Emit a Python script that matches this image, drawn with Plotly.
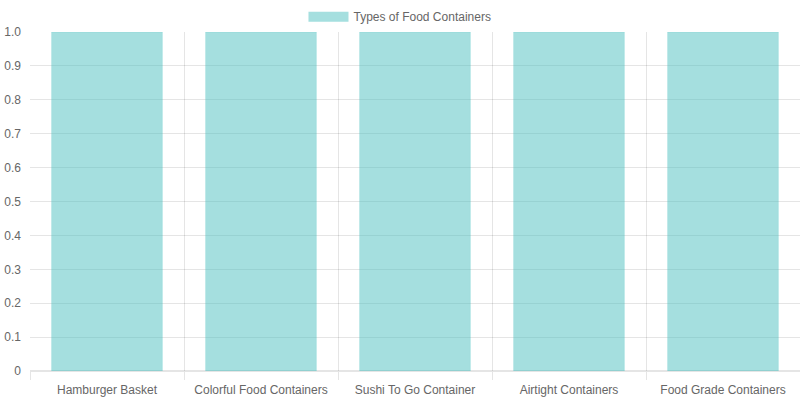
import plotly.graph_objects as go

# ── Data ──────────────────────────────────────────────────────────────
categories = [
    "Hamburger Basket",
    "Colorful Food Containers",
    "Sushi To Go Container",
    "Airtight Containers",
    "Food Grade Containers",
]
values = [1, 1, 1, 1, 1]
series_name = "Types of Food Containers"

y_tickvals = [0, 0.1, 0.2, 0.3, 0.4, 0.5, 0.6, 0.7, 0.8, 0.9, 1.0]
y_ticktext = ["0", "0.1", "0.2", "0.3", "0.4", "0.5", "0.6", "0.7", "0.8", "0.9", "1.0"]

FILL = "rgba(75,192,192,0.5)"
GRID = "rgba(0,0,0,0.1)"

fig = go.Figure()

fig.add_trace(go.Bar(
    x=categories, y=values,
    marker=dict(color=FILL, line=dict(color="rgba(75,192,192,0.15)", width=1)),
    name=series_name, showlegend=False,
))

# legend-only entry, drawn as a wide box like the reference
fig.add_trace(go.Scatter(
    x=[None], y=[None], mode="lines",
    line=dict(color=FILL, width=12),
    name=series_name, showlegend=True,
))

fig.update_layout(
    width=800, height=400,
    paper_bgcolor="white", plot_bgcolor="white",
    font=dict(family="Liberation Sans, Arial, sans-serif", size=12, color="#666"),
    bargap=0.28,
    margin=dict(l=30, r=0, t=32, b=29, autoexpand=False),
    legend=dict(
        orientation="h",
        xref="paper", x=0.4805, xanchor="center",
        yref="paper", y=1.088, yanchor="top",
        itemwidth=40,
        bgcolor="rgba(0,0,0,0)",
        font=dict(size=12, color="#666"),
    ),
)

fig.update_xaxes(
    type="category",
    tickson="boundaries",
    ticks="outside", ticklen=8, tickcolor=GRID,
    showgrid=True, gridcolor=GRID,
    showline=False, zeroline=False,
    tickangle=0,
    ticklabelstandoff=10,
)
fig.update_yaxes(
    range=[0, 1.0],
    tickvals=y_tickvals, ticktext=y_ticktext,
    showgrid=True, gridcolor=GRID,
    zeroline=True, zerolinecolor=GRID,
    showline=False, ticks="", ticklabelstandoff=8,
)

# drop the page's default body margin so the 800x400 figure fills the window
fig.write_html(
    "out.html",
    config={"displayModeBar": False},
    post_script="document.body.style.margin='0';",
)
